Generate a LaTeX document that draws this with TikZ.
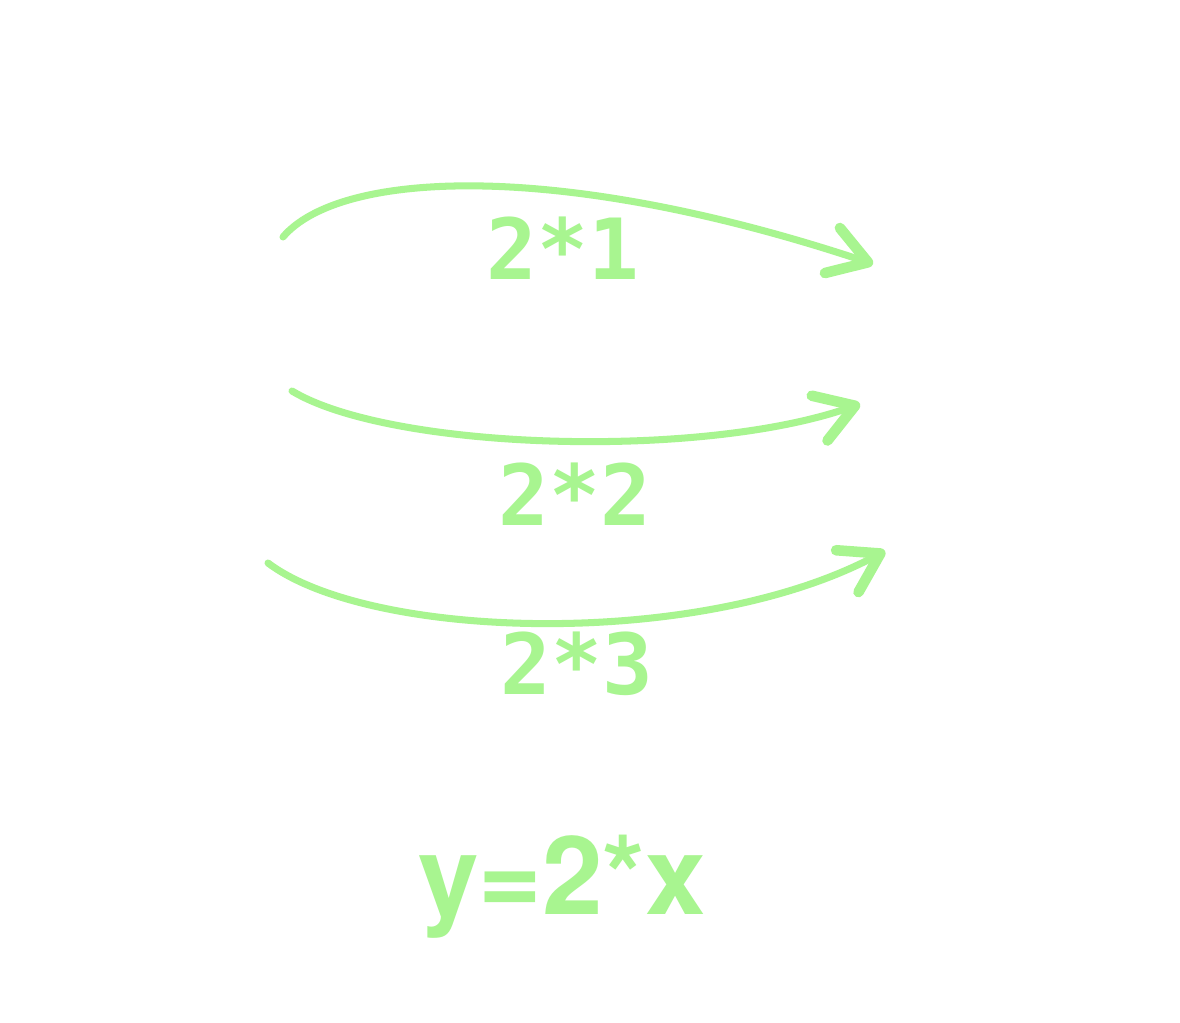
\documentclass[tikz,border=0pt]{standalone}
\usepackage{fontspec}
\setmainfont{TeX Gyre Heros}
\newfontfamily\labelfont{DejaVu Sans Mono}
\usetikzlibrary{arrows.meta}
\definecolor{mint}{RGB}{168,245,144}

\begin{document}
\begin{tikzpicture}[
  x=0.02cm, y=-0.02cm,
  lbl/.style={text=mint, inner sep=0pt, font=\labelfont\bfseries\fontsize{48}{56}\selectfont},
  eqn/.style={text=mint, inner sep=0pt, font=\bfseries\fontsize{62}{72}\selectfont},
  arr/.style={draw=mint, line width=4pt, line cap=round, line join=round,
    -{Straight Barb[length=0.75cm, width=0.95cm, line width=6pt, line cap=round, line join=round]}},
]
\useasboundingbox[fill=white] (0,0) rectangle (1180,1023);
% start and end points of the three arrows
\coordinate (s1) at (283,237);
\coordinate (e1) at (873,264);
\coordinate (s2) at (292,391);
\coordinate (e2) at (860,404);
\coordinate (s3) at (268,563);
\coordinate (e3) at (885,551);
% labels
\node[lbl] (times1) at (563,248) {2*1};
\node[lbl] (times2) at (575,494) {2*2};
\node[lbl] (times3) at (577,664) {2*3};
\node[eqn] (rule) at (562,887) {y=2*x};
% arrows
\draw[arr] (s1) .. controls (340,170) and (560,160) .. (e1);
\draw[arr] (s2) .. controls (390,450) and (700,460) .. (e2);
\draw[arr] (s3) .. controls (370,640) and (700,650) .. (e3);
\end{tikzpicture}
\end{document}
